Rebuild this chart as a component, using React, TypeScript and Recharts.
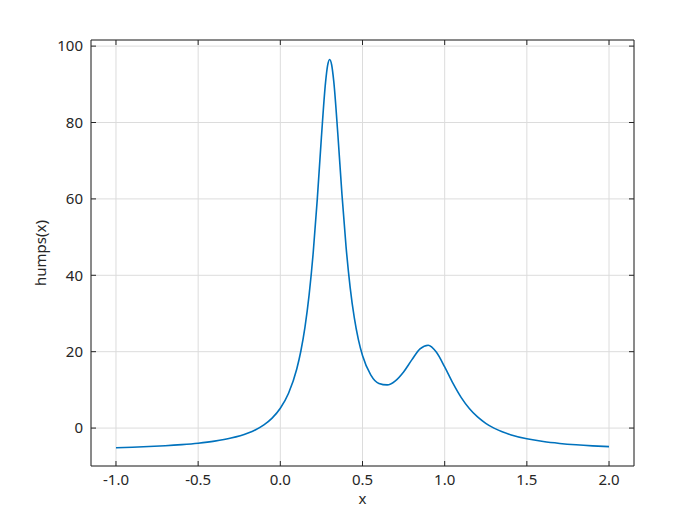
import { LineChart, Line, XAxis, YAxis, CartesianGrid } from 'recharts';

// x samples and humps(x) values
const xValues = [
  -1.0, -0.9, -0.8, -0.7, -0.6, -0.5, -0.4, -0.3, -0.2, -0.15, -0.1, -0.05,
  0.0, 0.05, 0.1, 0.125, 0.15, 0.175, 0.2, 0.225, 0.25, 0.275, 0.2875, 0.3,
  0.3125, 0.325, 0.35, 0.375, 0.4, 0.425, 0.45, 0.475, 0.5, 0.55, 0.6, 0.65,
  0.7, 0.75, 0.8, 0.85, 0.9, 0.95, 1.0, 1.05, 1.1, 1.15, 1.2, 1.25, 1.3, 1.35,
  1.4, 1.5, 1.6, 1.7, 1.8, 1.9, 2.0,
];
const humpsValues = [
  -5.14, -5.01, -4.84, -4.63, -4.34, -3.96, -3.42, -2.62, -1.35, -0.42, 0.84, 2.61,
  5.18, 9.1, 15.47, 20.18, 26.43, 34.79, 45.89, 60.02, 76.16, 90.44, 94.87, 96.5,
  95.06, 90.82, 76.92, 61.17, 47.45, 36.79, 28.89, 23.15, 19.0, 13.95, 11.69, 11.3,
  12.38, 14.71, 17.85, 20.73, 21.7, 19.84, 16.0, 11.75, 8.04, 5.12, 2.91, 1.25, -0.01, -0.98,
  -1.73, -2.81, -3.53, -4.02, -4.38, -4.65, -4.86,
];
const xTicks = [-1.0, -0.5, 0.0, 0.5, 1.0, 1.5, 2.0];
const yTicks = [0, 20, 40, 60, 80, 100];

const data = xValues.map((x, i) => ({ x, y: humpsValues[i] }));

const axisColor = '#262626';
const font = { fontFamily: '"Noto Sans", sans-serif', fontSize: 15, fill: '#262626' };
const noLabel = () => <g />;

export default function App() {
  return (
    <div style={{ position: 'absolute', left: 0, top: 0, width: 700, height: 525, background: '#fff' }}>
      <LineChart width={700} height={525} data={data} margin={{ top: 10, right: 36, left: 0, bottom: 29 }}>
        <CartesianGrid xAxisId="bottom" yAxisId="left" stroke="#dcdcdc" strokeWidth={1} />
        <XAxis
          xAxisId="bottom"
          dataKey="x"
          type="number"
          domain={[-1.152, 2.152]}
          ticks={xTicks}
          tickFormatter={(v: number) => v.toFixed(1)}
          allowDataOverflow
          stroke={axisColor}
          tickSize={-5}
          tickMargin={13}
          height={30}
          tick={font}
          label={{ value: 'x', position: 'insideBottom', offset: -8, style: font }}
        />
        <XAxis
          xAxisId="top"
          orientation="top"
          dataKey="x"
          type="number"
          domain={[-1.152, 2.152]}
          ticks={xTicks}
          allowDataOverflow
          stroke={axisColor}
          tickSize={-5}
          tick={noLabel}
          height={30}
        />
        <YAxis
          yAxisId="left"
          type="number"
          domain={[-9.93, 101.6]}
          ticks={yTicks}
          allowDataOverflow
          stroke={axisColor}
          tickSize={-5}
          tickMargin={13}
          width={91}
          tick={font}
          label={{ value: 'humps(x)', angle: -90, position: 'insideLeft', offset: 41, style: { ...font, textAnchor: 'middle' } }}
        />
        <YAxis
          yAxisId="right"
          orientation="right"
          type="number"
          domain={[-9.93, 101.6]}
          ticks={yTicks}
          allowDataOverflow
          stroke={axisColor}
          tickSize={-5}
          tick={noLabel}
          width={30}
        />
        <Line
          xAxisId="bottom"
          yAxisId="left"
          type="monotone"
          dataKey="y"
          stroke="#0072BD"
          strokeWidth={1.6}
          dot={false}
          isAnimationActive={false}
        />
      </LineChart>
    </div>
  );
}
